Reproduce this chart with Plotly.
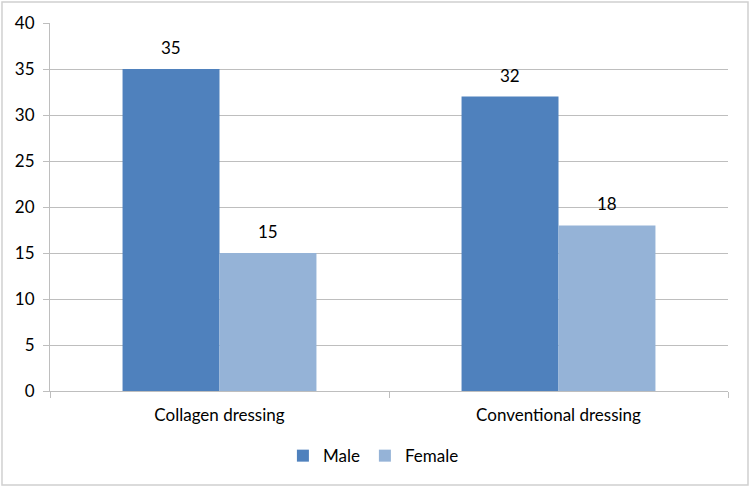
import plotly.graph_objects as go

categories = ["Collagen dressing", "Conventional dressing"]
male = [35, 32]
female = [15, 18]
series_names = ["Male", "Female"]
y_ticks = [0, 5, 10, 15, 20, 25, 30, 35, 40]

colors = ["#4F81BD", "#95B3D7"]
font_family = "Lato, Carlito, 'Open Sans', sans-serif"
fs = 17

fig = go.Figure()
for name, vals, c in zip(series_names, [male, female], colors):
    fig.add_trace(go.Bar(x=categories, y=vals, name=name, marker=dict(color=c, line=dict(width=0))))

annotations = []
for i, cat in enumerate(categories):
    for j, vals in enumerate([male, female]):
        annotations.append(dict(
            x=cat, y=vals[i], xref="x", yref="y", text=str(vals[i]), showarrow=False,
            xshift=(-48.5 if j == 0 else 48.5), yanchor="bottom", yshift=9,
            font=dict(size=fs, color="black", family=font_family)))

fig.update_layout(
    width=750, height=487,
    margin=dict(l=50, r=22, t=23, b=96),
    paper_bgcolor="white", plot_bgcolor="white",
    barmode="group", bargap=0.428, bargroupgap=0,
    font=dict(family=font_family, size=fs, color="black"),
    showlegend=True,
    legend=dict(orientation="h", x=0.477, xanchor="center", y=-0.128, yanchor="top",
                font=dict(size=fs), itemwidth=30, traceorder="normal"),
    annotations=annotations,
    shapes=[dict(type="rect", xref="paper", yref="paper",
                 x0=-0.0708, x1=1.0295, y0=-0.2554, y1=1.0571,
                 line=dict(color="#D0D0D0", width=1.5), fillcolor="rgba(0,0,0,0)", layer="below")],
)
fig.update_yaxes(range=[0, 40], tickvals=y_ticks, showgrid=True, gridcolor="#BEBEBE", gridwidth=1,
                 showline=True, linecolor="#BEBEBE", linewidth=1, ticks="outside", ticklen=6,
                 tickcolor="#BEBEBE", ticklabelstandoff=5, zeroline=False, tickfont=dict(size=fs))
fig.update_xaxes(showline=True, linecolor="#BEBEBE", linewidth=1, ticks="outside", ticklen=6,
                 tickcolor="#BEBEBE", tickson="boundaries", ticklabelstandoff=9, tickfont=dict(size=fs))

fig.write_html("out.html")
